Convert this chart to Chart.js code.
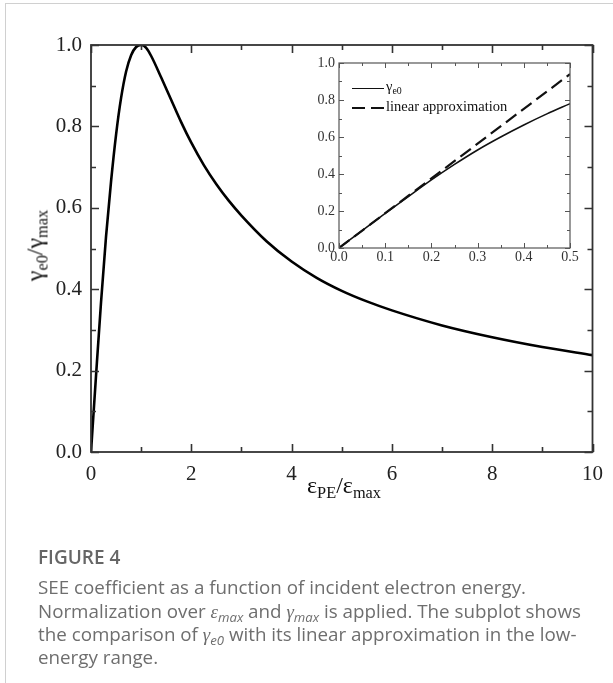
<!DOCTYPE html>
<html>
<head>
<meta charset="utf-8">
<script src="https://cdn.jsdelivr.net/npm/chart.js@4/dist/chart.umd.min.js"></script>
<style>
  body { margin: 0; background: #fff; }
  #wrap { position: relative; width: 613px; height: 683px; overflow: hidden; }
  #frame { position: absolute; left: 5px; top: 3px; width: 700px; height: 700px;
           border-left: 1.5px solid #d0d0d0; border-top: 1.5px solid #d0d0d0; }
  canvas { position: absolute; }
  .serif { font-family: "Liberation Serif", "DejaVu Serif", serif; color: #111; position: absolute; white-space: nowrap; }
  .serif sub { font-size: 68%; position: relative; top: 0.3em; vertical-align: baseline; line-height: 0; }
  #xtitle { left: 244px; width: 200px; text-align: center; top: 472px; font-size: 24px; }
  #ytitle { left: -65px; width: 200px; text-align: center; top: 232px; font-size: 24px; transform: rotate(-90deg); }
  .leg { font-size: 14.5px; left: 386px; }
  .sample { position: absolute; left: 352px; width: 32px; }
  #caption { position: absolute; left: 38px; top: 546px; font-family: "Open Sans", "Noto Sans", sans-serif;
             color: #6e6e6e; font-size: 18.8px; line-height: 23.3px; white-space: nowrap; }
  #caption b { font-weight: 600; font-size: 19px; display: block; margin-bottom: 7px; color: #666; }
  #caption i { font-family: "Liberation Serif", serif; }
  #caption sub { font-size: 70%; position: relative; top: 0.3em; vertical-align: baseline; line-height: 0; }
  #caption i sub { font-family: "Open Sans", sans-serif; }
</style>
</head>
<body>
<div id="wrap">
  <div id="frame"></div>
  <canvas id="main" width="613" height="683" style="left:0;top:0"></canvas>
  <canvas id="inset" width="290" height="222" style="left:300px;top:50px"></canvas>
  <div class="sample" style="top:87.5px;border-top:1.6px solid #111"></div>
  <div class="serif leg" style="top:78px">&gamma;<sub>e0</sub></div>
  <div class="sample" style="top:107px;height:2px;background:repeating-linear-gradient(to right,#111 0 13px,transparent 13px 19px)"></div>
  <div class="serif leg" style="top:98px">linear approximation</div>
  <div id="xtitle" class="serif">&epsilon;<sub>PE</sub>/&epsilon;<sub>max</sub></div>
  <div id="ytitle" class="serif">&gamma;<sub>e0</sub>/&gamma;<sub>max</sub></div>
  <div id="caption"><b>FIGURE 4</b>SEE coefficient as a function of incident electron energy.<br>Normalization over <i>&epsilon;<sub>max</sub></i> and <i>&gamma;<sub>max</sub></i> is applied. The subplot shows<br>the comparison of <i>&gamma;<sub>e0</sub></i> with its linear approximation in the low-<br>energy range.</div>
</div>
<script>
// main curve: gamma_e0 / gamma_max vs eps_PE / eps_max
const mainX = [0, 0.1, 0.2, 0.3, 0.4, 0.5, 0.6, 0.7, 0.8, 0.9, 1.0, 1.1, 1.2, 1.4, 1.6, 1.8, 2.0, 2.25, 2.5, 2.75, 3.0, 3.5, 4.0, 4.5, 5.0, 5.5, 6.0, 7.0, 8.0, 9.0, 10.0];
const mainY = [0, 0.187, 0.368, 0.53, 0.665, 0.78, 0.87, 0.935, 0.975, 0.995, 1.0, 0.993, 0.973, 0.92, 0.865, 0.81, 0.76, 0.705, 0.658, 0.617, 0.581, 0.518, 0.468, 0.428, 0.396, 0.37, 0.348, 0.311, 0.282, 0.258, 0.238];

// inset: low-energy part and its linear approximation
const insetX = [0, 0.05, 0.1, 0.15, 0.2, 0.25, 0.3, 0.35, 0.4, 0.45, 0.5];
const insetY = [0, 0.094, 0.187, 0.278, 0.368, 0.452, 0.53, 0.6, 0.665, 0.725, 0.78];
const linX = [0, 0.5];
const linY = [0, 0.94];

// tick positions
const mainXMajor = [0, 2, 4, 6, 8, 10];
const mainXMinor = [1, 3, 5, 7, 9];
const mainYMajor = [0, 0.2, 0.4, 0.6, 0.8, 1.0];
const mainYMinor = [0.1, 0.3, 0.5, 0.7, 0.9];
const insetXMajor = [0, 0.1, 0.2, 0.3, 0.4, 0.5];
const insetXMinor = [0.05, 0.15, 0.25, 0.35, 0.45];
const insetYMajor = [0, 0.2, 0.4, 0.6, 0.8, 1.0];
const insetYMinor = [0.1, 0.3, 0.5, 0.7, 0.9];

const pts = (xs, ys) => xs.map((x, i) => ({x: x, y: ys[i]}));

// box round the plot area plus inward ticks on all four sides
const boxTicks = {
  id: 'boxTicks',
  afterDraw(chart, args, o) {
    const ctx = chart.ctx, a = chart.chartArea;
    const sx = chart.scales.x, sy = chart.scales.y;
    ctx.save();
    ctx.strokeStyle = o.color;
    ctx.lineWidth = o.width;
    ctx.strokeRect(a.left, a.top, a.right - a.left, a.bottom - a.top);
    ctx.beginPath();
    const vt = (v, len) => {
      const p = Math.round(sx.getPixelForValue(v)) + 0.5;
      ctx.moveTo(p, a.bottom); ctx.lineTo(p, a.bottom - len);
      ctx.moveTo(p, a.top); ctx.lineTo(p, a.top + len);
    };
    const ht = (v, len) => {
      const p = Math.round(sy.getPixelForValue(v)) + 0.5;
      ctx.moveTo(a.left, p); ctx.lineTo(a.left + len, p);
      ctx.moveTo(a.right, p); ctx.lineTo(a.right - len, p);
    };
    o.xMajor.forEach(v => vt(v, o.major));
    o.xMinor.forEach(v => vt(v, o.minor));
    o.yMajor.forEach(v => ht(v, o.major));
    o.yMinor.forEach(v => ht(v, o.minor));
    ctx.lineWidth = o.tickWidth;
    ctx.stroke();
    ctx.restore();
  }
};

const serif = "'Liberation Serif', 'DejaVu Serif', serif";

new Chart(document.getElementById('main'), {
  type: 'scatter',
  data: {
    datasets: [{
      data: pts(mainX, mainY),
      showLine: true,
      borderColor: '#000',
      borderWidth: 2.6,
      pointRadius: 0,
      cubicInterpolationMode: 'monotone'
    }]
  },
  options: {
    responsive: false,
    animation: false,
    layout: { padding: { top: 45, right: 16, left: 0, bottom: 0 } },
    plugins: {
      legend: { display: false },
      tooltip: { enabled: false },
      boxTicks: { color: '#333', width: 1.8, tickWidth: 1.6, major: 8, minor: 5,
                  xMajor: mainXMajor, xMinor: mainXMinor, yMajor: mainYMajor, yMinor: mainYMinor }
    },
    scales: {
      x: {
        type: 'linear', min: 0, max: 10,
        grid: { display: false, drawTicks: false },
        border: { display: false },
        ticks: { stepSize: 2, padding: 10, color: '#222', font: { family: serif, size: 21 } },
        afterFit: s => { s.height = 231; }
      },
      y: {
        min: 0, max: 1,
        grid: { display: false, drawTicks: false },
        border: { display: false },
        ticks: { stepSize: 0.2, padding: 9, color: '#222', font: { family: serif, size: 21 },
                 callback: v => v.toFixed(1) },
        afterFit: s => { s.width = 91; }
      }
    }
  },
  plugins: [boxTicks]
});

new Chart(document.getElementById('inset'), {
  type: 'scatter',
  data: {
    datasets: [{
      data: pts(insetX, insetY),
      showLine: true,
      borderColor: '#111',
      borderWidth: 1.6,
      pointRadius: 0,
      cubicInterpolationMode: 'monotone'
    }, {
      data: pts(linX, linY),
      showLine: true,
      borderColor: '#111',
      borderWidth: 2.2,
      borderDash: [13, 6],
      pointRadius: 0
    }]
  },
  options: {
    responsive: false,
    animation: false,
    layout: { padding: { top: 13, right: 20, left: 0, bottom: 0 } },
    plugins: {
      legend: { display: false },
      tooltip: { enabled: false },
      boxTicks: { color: '#555', width: 1.2, tickWidth: 1, major: 5, minor: 3,
                  xMajor: insetXMajor, xMinor: insetXMinor, yMajor: insetYMajor, yMinor: insetYMinor }
    },
    scales: {
      x: {
        type: 'linear', min: 0, max: 0.5,
        grid: { display: false, drawTicks: false },
        border: { display: false },
        ticks: { stepSize: 0.1, padding: 1, color: '#333', font: { family: serif, size: 14 },
                 callback: v => v.toFixed(1) },
        afterFit: s => { s.height = 24; }
      },
      y: {
        min: 0, max: 1,
        grid: { display: false, drawTicks: false },
        border: { display: false },
        ticks: { stepSize: 0.2, padding: 4, color: '#333', font: { family: serif, size: 14 },
                 callback: v => v.toFixed(1) },
        afterFit: s => { s.width = 39; }
      }
    }
  },
  plugins: [boxTicks]
});
</script>
</body>
</html>
